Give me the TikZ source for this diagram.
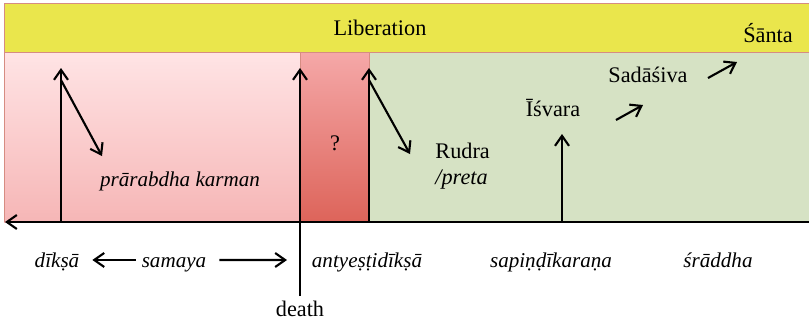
\documentclass[tikz,border=0pt]{standalone}
\usepackage{fontspec}
\setmainfont{Liberation Serif}
\usepackage{tikz}
\usetikzlibrary{arrows.meta}
\definecolor{Lemon}{RGB}{234,230,76}
\definecolor{Edge}{RGB}{214,140,130}
\definecolor{PinkTop}{RGB}{255,228,229}
\definecolor{PinkBot}{RGB}{246,182,182}
\definecolor{RedTop}{RGB}{245,168,168}
\definecolor{RedBot}{RGB}{221,100,90}
\definecolor{Sage}{RGB}{214,226,196}

\begin{document}
\begin{tikzpicture}[x=0.03cm, y=-0.03cm,
 txt/.style={font=\fontsize{19}{22}\selectfont, inner sep=1pt},
 itxt/.style={font=\fontsize{18}{22}\selectfont\itshape, inner sep=1pt},
 arr/.style={-{Straight Barb[length=3mm,width=4.2mm]}, line width=1.8pt},
]
\useasboundingbox (0,0) rectangle (809,323);

% the three periods and liberation
\shade[top color=PinkTop, bottom color=PinkBot] (4,52) rectangle (300,222);
\shade[top color=RedTop, bottom color=RedBot] (300,52) rectangle (369,222);
\fill[Sage] (369,52) rectangle (809,222);
\draw[Edge, line width=0.6pt] (300,52) -- (300,222) (369,52) -- (369,222) (4,52) -- (4,222);
\fill[Lemon, draw=Edge, line width=0.6pt] (4,3) rectangle (812,52);

\node[txt]  (lib)    at (380,28)  {Liberation};
\node[txt]  (santa)  at (768,33)  {Śānta};
\node[txt]  (sada)   at (648,75)  {Sadāśiva};
\node[txt]  (isvara) at (553,108) {Īśvara};
\node[txt]  (q)      at (335,143) {?};
\node[itxt] (karman) at (180,181) {prārabdha karman};
\node[txt, align=left, anchor=west] (rudra) at (434,166) {Rudra\\\textit{/preta}};

\node[itxt, anchor=base] (diksa)  at (57,267)  {dīkṣā};
\node[itxt, anchor=base] (samaya) at (174,267) {samaya};
\node[itxt, anchor=base] (antye)  at (367,267) {antyeṣṭidīkṣā};
\node[itxt, anchor=base] (sapin)  at (551,267) {sapiṇḍīkaraṇa};
\node[itxt, anchor=base] (sraddha) at (718,267) {śrāddha};
\node[txt]  (death)  at (300,309) {death};

% time axis
\coordinate (axl) at (5,222);
\coordinate (axr) at (809,222);
\draw[arr, {Straight Barb[length=3mm,width=4.2mm]}-] (axl) -- (axr);

\coordinate (a0) at (61,222);  \coordinate (a1) at (61,68);
\coordinate (a2) at (61,80);   \coordinate (a3) at (102,156);
\coordinate (b0) at (300,296); \coordinate (b1) at (300,68);
\coordinate (c0) at (369,222); \coordinate (c1) at (369,68);
\coordinate (c2) at (369,80);  \coordinate (c3) at (410,154);
\coordinate (e0) at (562,222); \coordinate (e1) at (562,134);
\coordinate (f0) at (616,120); \coordinate (f1) at (643,105);
\coordinate (g0) at (708,78);  \coordinate (g1) at (737,62);
\coordinate (dth) at (287,260);

\draw[arr] (a0) -- (a1);
\draw[arr] (a2) -- (a3);
\draw[arr] (b0) -- (b1);
\draw[arr] (c0) -- (c1);
\draw[arr] (c2) -- (c3);
\draw[arr] (e0) -- (e1);
\draw[arr] (f0) -- (f1);
\draw[arr] (g0) -- (g1);

\draw[arr, shorten <=4pt, shorten >=10pt] ([yshift=6pt]samaya.base west) -- ([yshift=6pt]diksa.base east);
\draw[arr, shorten <=10pt] ([yshift=6pt]samaya.base east) -- (dth);
\end{tikzpicture}
\end{document}
